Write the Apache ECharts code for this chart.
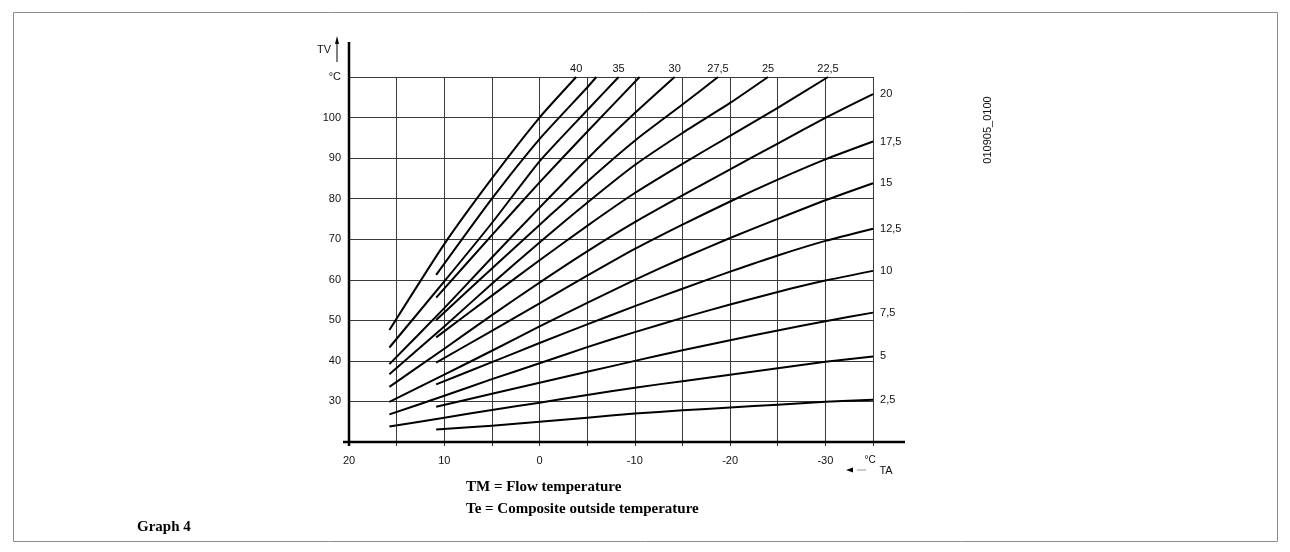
<!DOCTYPE html>
<html>
<head>
<meta charset="utf-8">
<script src="https://cdn.jsdelivr.net/npm/echarts@6/dist/echarts.min.js"></script>
<style>
html,body{margin:0;padding:0;background:#fff;}
#chart{width:1290px;height:552px;}
</style>
</head>
<body>
<div id="chart"></div>
<script>
// ---- data (TA in °C, TV in °C) ----
const curveParams = [2.5, 5, 7.5, 10, 12.5, 15, 17.5, 20, 22.5, 25, 27.5, 30, 32.5, 35, 37.5, 40];
const curveLabels = ['2,5','5','7,5','10','12,5','15','17,5','20','22,5','25','27,5','30','','35','','40'];
const labelPlaces = ['right','right','right','right','right','right','right','right','top','top','top','top','','top','','top'];

const c2_5  = [[10.85,23.1],[5,24.0],[0,25.0],[-5,26.0],[-10,27.0],[-15,27.8],[-20,28.5],[-25,29.2],[-30,29.9],[-35,30.4]];
const c5    = [[15.76,23.8],[10,26.0],[5,27.9],[0,29.7],[-5,31.6],[-10,33.4],[-15,35.0],[-20,36.6],[-25,38.2],[-30,39.8],[-35,41.1]];
const c7_5  = [[10.85,28.7],[5,31.9],[0,34.6],[-5,37.3],[-10,40.0],[-15,42.6],[-20,45.1],[-25,47.5],[-30,49.8],[-35,51.9]];
const c10   = [[15.76,26.8],[10,31.4],[5,35.5],[0,39.4],[-5,43.4],[-10,47.1],[-15,50.6],[-20,53.9],[-25,57.0],[-30,59.8],[-35,62.2]];
const c12_5 = [[10.85,34.2],[5,39.7],[0,44.4],[-5,49.0],[-10,53.5],[-15,57.8],[-20,62.0],[-25,66.0],[-30,69.6],[-35,72.6]];
const c15   = [[15.76,29.9],[10,36.6],[5,42.5],[0,48.5],[-5,54.3],[-10,60.0],[-15,65.3],[-20,70.3],[-25,75.0],[-30,79.6],[-35,83.8]];
const c17_5 = [[10.85,39.6],[5,47.4],[0,54.2],[-5,61.0],[-10,67.6],[-15,73.6],[-20,79.3],[-25,84.7],[-30,89.7],[-35,94.1]];
const c20   = [[15.76,33.6],[10,43.0],[5,51.3],[0,59.3],[-5,67.0],[-10,74.2],[-15,80.8],[-20,87.2],[-25,93.6],[-30,99.9],[-35,105.8]];
const c22_5 = [[10.85,45.8],[5,56.1],[0,64.8],[-5,73.3],[-10,81.4],[-15,88.6],[-20,95.5],[-25,102.4],[-30.28,110]];
const c25   = [[15.76,36.7],[10,48.5],[5,59.0],[0,69.2],[-5,79.0],[-10,88.3],[-15,96.2],[-20,103.6],[-23.98,110]];
const c27_5 = [[10.85,50.1],[5,62.8],[0,73.5],[-5,84.2],[-10,94.3],[-15,103.2],[-18.73,110]];
const c30   = [[15.76,39.2],[10,53.0],[5,65.5],[0,77.8],[-5,89.8],[-10,101.1],[-14.18,110]];
const c32_5 = [[10.85,55.6],[5,71.0],[0,84.0],[-5,96.5],[-10.5,110]];
const c35   = [[15.76,43.3],[10,59.6],[5,74.0],[0,89.2],[-5,101.8],[-8.3,110]];
const c37_5 = [[10.85,61.2],[5,80.0],[0,94.7],[-5,107.4],[-5.96,110]];
const c40   = [[15.76,47.6],[10,68.8],[5,85.0],[0,100.0],[-3.85,110]];

const curves = [c2_5, c5, c7_5, c10, c12_5, c15, c17_5, c20, c22_5, c25, c27_5, c30, c32_5, c35, c37_5, c40];

const xLabelValues = [20, 10, 0, -10, -20, -30];
const yTopLabel = '°C';

// ---- chart ----
const chart = echarts.init(document.getElementById('chart'), null, {renderer: 'canvas'});
const FONT = '"Liberation Sans", Arial, sans-serif';
const SERIF = '"Liberation Serif", "Times New Roman", serif';
const GRIDC = '#3a3a3a';

const series = curves.map((pts, k) => ({
  type: 'line',
  name: String(curveParams[k]),
  data: pts.map((p, i) => {
    if (i === pts.length - 1 && curveLabels[k]) {
      const top = labelPlaces[k] === 'top';
      return {
        value: p,
        label: {
          show: true,
          position: top ? 'top' : 'right',
          distance: top ? 2 : 7,
          formatter: curveLabels[k],
          color: '#111',
          fontFamily: FONT,
          fontSize: 11
        }
      };
    }
    return p;
  }),
  showSymbol: true,
  symbol: 'circle',
  symbolSize: 0.1,
  smooth: 0.2,
  lineStyle: {color: '#000', width: 2, join: 'round'},
  itemStyle: {color: '#000'},
  emphasis: {disabled: true},
  silent: true,
  z: 5
}));

chart.setOption({
  animation: false,
  backgroundColor: '#fff',
  grid: {left: 349, top: 77, width: 524, height: 365, containLabel: false},
  xAxis: {
    type: 'value', min: -35, max: 20, interval: 5, inverse: true,
    axisLine: {show: false},
    axisTick: {show: true, length: 4, lineStyle: {color: GRIDC, width: 1}},
    axisLabel: {
      color: '#111', fontFamily: FONT, fontSize: 11, margin: 13,
      formatter: v => xLabelValues.indexOf(v) >= 0 ? String(v) : ''
    },
    splitLine: {show: true, lineStyle: {color: GRIDC, width: 1}}
  },
  yAxis: {
    type: 'value', min: 20, max: 110, interval: 10,
    axisLine: {show: false},
    axisTick: {show: true, length: 5, lineStyle: {color: GRIDC, width: 1}},
    axisLabel: {
      color: '#111', fontFamily: FONT, fontSize: 11, margin: 8,
      formatter: v => v === 110 ? yTopLabel : (v === 20 ? '' : String(v))
    },
    splitLine: {show: true, lineStyle: {color: GRIDC, width: 1}}
  },
  series: series
});

// ---- decorations placed from the axis scales ----
const P = (x, y) => chart.convertToPixel({gridIndex: 0}, [x, y]);
const origin = P(20, 20);
const rightEnd = P(-35, 20);
const topEnd = P(20, 110);
const ax = origin[0], ay = origin[1];

const graphics = [
  {type: 'rect', shape: {x: 13.5, y: 12.5, width: 1264, height: 529},
   style: {fill: 'none', stroke: '#8c8c8c', lineWidth: 1}, silent: true},
  {type: 'line', shape: {x1: ax, y1: ay + 4, x2: ax, y2: topEnd[1] - 35},
   style: {stroke: '#000', lineWidth: 2.5}, z: 10},
  {type: 'line', shape: {x1: ax - 6, y1: ay, x2: rightEnd[0] + 32, y2: ay},
   style: {stroke: '#000', lineWidth: 2.5}, z: 10},
  {type: 'text', x: 324, y: 50, style: {text: 'TV', font: '11px ' + FONT, fill: '#111', align: 'center', verticalAlign: 'middle'}},
  {type: 'line', shape: {x1: 337, y1: 62, x2: 337, y2: 42}, style: {stroke: '#000', lineWidth: 1}},
  {type: 'polygon', shape: {points: [[337, 36], [335, 44], [339, 44]]}, style: {fill: '#000'}},
  {type: 'text', x: rightEnd[0] - 3, y: ay + 18, style: {text: '°C', font: '10px ' + FONT, fill: '#111', align: 'center', verticalAlign: 'middle'}},
  {type: 'polygon', shape: {points: [[rightEnd[0] - 27, ay + 28], [rightEnd[0] - 20, ay + 25.5], [rightEnd[0] - 20, ay + 30.5]]}, style: {fill: '#000'}},
  {type: 'line', shape: {x1: rightEnd[0] - 16, y1: ay + 28, x2: rightEnd[0] - 7, y2: ay + 28}, style: {stroke: '#999', lineWidth: 1}},
  {type: 'text', x: rightEnd[0] + 13, y: ay + 29, style: {text: 'TA', font: '11px ' + FONT, fill: '#111', align: 'center', verticalAlign: 'middle'}},
  {type: 'text', x: 466, y: 487, style: {text: 'TM = Flow temperature', font: 'bold 15px ' + SERIF, fill: '#000', verticalAlign: 'middle'}},
  {type: 'text', x: 466, y: 509, style: {text: 'Te = Composite outside temperature', font: 'bold 15px ' + SERIF, fill: '#000', verticalAlign: 'middle'}},
  {type: 'text', x: 137, y: 527, style: {text: 'Graph 4', font: 'bold 15px ' + SERIF, fill: '#000', verticalAlign: 'middle'}},
  {type: 'text', x: 988, y: 130, rotation: Math.PI / 2,
   style: {text: '010905_0100', font: '11px ' + FONT, fill: '#111', align: 'center', verticalAlign: 'middle'}}
];

chart.setOption({graphic: graphics});
</script>
</body>
</html>
